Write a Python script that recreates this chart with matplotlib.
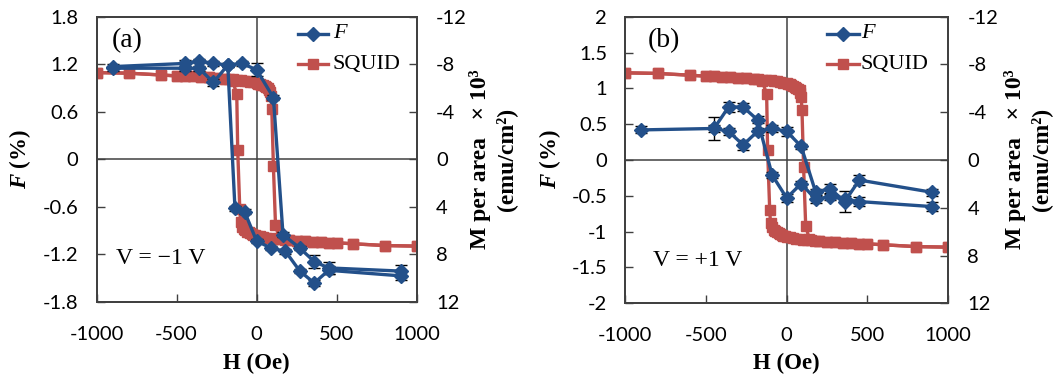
import matplotlib
matplotlib.use("Agg")
import matplotlib.pyplot as plt
from matplotlib.lines import Line2D

plt.rcParams["mathtext.fontset"] = "custom"
plt.rcParams["mathtext.rm"] = "Liberation Serif"
plt.rcParams["mathtext.bf"] = "Liberation Serif:bold"
plt.rcParams["mathtext.it"] = "Liberation Serif:italic"
plt.rcParams["mathtext.bfit"] = "Liberation Serif:italic:bold"

# ---------------- data ----------------
# SQUID magnetization loop (M per area x1e3, emu/cm^2), same for both panels
H_sq_dn = [1000, 800, 600, 500, 450, 400, 350, 300, 250, 200, 175, 150, 125, 100, 80, 60, 40, 20, 0,
           -10, -20, -30, -40, -50, -60, -70, -80, -90, -100, -105, -118, -124, -150, -200, -250,
           -300, -350, -400, -450, -500, -600, -800, -1000]
M_sq_dn = [7.3, 7.25, 7.1, 7.02, 7.0, 6.97, 6.94, 6.9, 6.86, 6.8, 6.77, 6.74, 6.7, 6.66, 6.62, 6.58, 6.53, 6.48, 6.42,
           6.38, 6.33, 6.28, 6.22, 6.15, 6.07, 5.97, 5.85, 5.65, 5.3, 4.2, -0.8, -5.5, -6.6, -6.8, -6.86,
           -6.9, -6.94, -6.97, -7.0, -7.02, -7.1, -7.25, -7.3]
H_sq_up = [-1000, -800, -600, -500, -450, -400, -350, -300, -250, -200, -175, -150, -125, -100, -80, -60, -40, -20, 0,
           10, 20, 30, 40, 50, 60, 70, 80, 85, 90, 95, 105, 118, 140, 200, 250,
           300, 350, 400, 450, 500, 600, 800, 1000]
M_sq_up = [-7.3, -7.25, -7.1, -7.02, -7.0, -6.97, -6.94, -6.9, -6.86, -6.8, -6.77, -6.74, -6.7, -6.66, -6.62, -6.58, -6.53, -6.48, -6.42,
           -6.38, -6.33, -6.28, -6.22, -6.15, -6.07, -5.97, -5.85, -5.65, -5.3, -4.2, 0.6, 5.5, 6.6, 6.8, 6.86,
           6.9, 6.94, 6.97, 7.0, 7.02, 7.1, 7.25, 7.3]

# Panel (a): F (%) at V = -1 V
H_a_up = [-900, -450, -360, -270, -180, -90, 0, 105, 165, 270, 360, 450, 900]
F_a_up = [1.17, 1.21, 1.24, 1.21, 1.19, 1.21, 1.13, 0.78, -0.95, -1.12, -1.29, -1.37, -1.41]
E_a_up = [0.03, 0.04, 0.03, 0.03, 0.03, 0.03, 0.08, 0.03, 0.03, 0.03, 0.08, 0.08, 0.08]
H_a_dn = [900, 450, 360, 270, 180, 90, 0, -75, -135, -180, -270, -360, -450, -900]
F_a_dn = [-1.47, -1.40, -1.56, -1.41, -1.16, -1.12, -1.03, -0.66, -0.62, 1.19, 0.97, 1.15, 1.15, 1.15]
E_a_dn = [0.05, 0.05, 0.04, 0.03, 0.03, 0.03, 0.03, 0.03, 0.03, 0.03, 0.05, 0.03, 0.03, 0.03]

# Panel (b): F (%) at V = +1 V
H_b_up = [-900, -450, -360, -270, -180, -90, 0, 90, 180, 270, 360, 450, 900]
F_b_up = [0.42, 0.44, 0.40, 0.21, 0.40, 0.44, 0.40, 0.19, -0.45, -0.40, -0.58, -0.28, -0.45]
E_b_up = [0.05, 0.16, 0.05, 0.07, 0.05, 0.05, 0.06, 0.04, 0.04, 0.07, 0.15, 0.07, 0.05]
H_b_dn = [900, 450, 360, 270, 180, 90, 0, -90, -180, -270, -360, -450]
F_b_dn = [-0.65, -0.58, -0.55, -0.51, -0.55, -0.33, -0.53, -0.21, 0.56, 0.74, 0.74, 0.44]
E_b_dn = [0.06, 0.06, 0.05, 0.05, 0.05, 0.04, 0.06, 0.04, 0.05, 0.06, 0.07, 0.05]

x_ticks = [-1000, -500, 0, 500, 1000]
ya_ticks = [-1.8, -1.2, -0.6, 0, 0.6, 1.2, 1.8]
ya_labels = ["-1.8", "-1.2", "-0.6", "0", "0.6", "1.2", "1.8"]
yb_ticks = [-2, -1.5, -1, -0.5, 0, 0.5, 1, 1.5, 2]
yb_labels = ["-2", "-1.5", "-1", "-0.5", "0", "0.5", "1", "1.5", "2"]
m_ticks = [-12, -8, -4, 0, 4, 8, 12]

BLUE = "#23508A"
RED = "#C0504D"
AXC = "#404040"

serif = ["Liberation Serif", "DejaVu Serif"]
sans = ["Lato", "DejaVu Sans"]

W, Hh = 1059.0, 379.0
fig = plt.figure(figsize=(W / 100, Hh / 100), dpi=100)

panels = [
    dict(rect=[96.5, 16.7, 416.7, 302.0], ylim=(-1.8, 1.8), yt=ya_ticks, yl=ya_labels,
         label="(a)", lab_xy=(127, 41), vtxt="V = \u22121 V", v_xy=(161, 259),
         flab_x=20, mlab_x=493, leg_x=(298, 328, 333), leg_y=(34, 64),
         Hup=H_a_up, Fup=F_a_up, Eup=E_a_up, Hdn=H_a_dn, Fdn=F_a_dn, Edn=E_a_dn),
    dict(rect=[625.3, 16.7, 948.0, 303.3], ylim=(-2, 2), yt=yb_ticks, yl=yb_labels,
         label="(b)", lab_xy=(664, 41), vtxt="V = +1 V", v_xy=(698, 261),
         flab_x=550, mlab_x=1028, leg_x=(827, 859, 861), leg_y=(34, 64),
         Hup=H_b_up, Fup=F_b_up, Eup=E_b_up, Hdn=H_b_dn, Fdn=F_b_dn, Edn=E_b_dn),
]


def fx(px):
    return px / W


def fy(py):
    return 1 - py / Hh


for p in panels:
    x0, y0, x1, y1 = p["rect"]
    ax = fig.add_axes([fx(x0), fy(y1), (x1 - x0) / W, (y1 - y0) / Hh])
    ax2 = ax.twinx()
    ax.set_zorder(ax2.get_zorder() + 1)
    ax.patch.set_visible(False)

    ax.set_xlim(-1000, 1000)
    ax.set_ylim(*p["ylim"])
    ax2.set_ylim(12, -12)

    ax2.axhline(0, color=AXC, lw=1.1, zorder=0)
    ax2.axvline(0, color=AXC, lw=1.1, zorder=0)

    # SQUID on right axis
    for Hs, Ms in [(H_sq_dn, M_sq_dn), (H_sq_up, M_sq_up)]:
        ax2.plot(Hs, Ms, color=RED, lw=2.4, marker="s", ms=7.5, mec=RED, mfc=RED, zorder=2)

    # F on left axis
    for Hs, Fs, Es in [(p["Hup"], p["Fup"], p["Eup"]), (p["Hdn"], p["Fdn"], p["Edn"])]:
        ax.errorbar(Hs, Fs, yerr=Es, color=BLUE, lw=2.4, marker="D", ms=7.5, mec=BLUE, mfc=BLUE,
                    ecolor="black", elinewidth=1.0, capsize=4, capthick=1.0, zorder=3)

    ax.set_xticks(x_ticks)
    ax.set_xticklabels([str(v) for v in x_ticks])
    ax.set_yticks(p["yt"])
    ax.set_yticklabels(p["yl"])
    ax2.set_yticks(m_ticks)
    ax2.set_yticklabels([str(v) for v in m_ticks])

    ax.tick_params(axis="x", direction="in", length=6, width=1, color=AXC, labelsize=14.5, pad=17)
    ax.tick_params(axis="y", direction="in", length=6, width=1, color=AXC, labelsize=14.5, pad=13)
    ax2.tick_params(axis="y", direction="in", length=6, width=1, color=AXC, labelsize=14.5, pad=14)
    for a in (ax, ax2):
        for lab in a.get_xticklabels() + a.get_yticklabels():
            lab.set_family(sans)
        for s in a.spines.values():
            s.set_color(AXC)
            s.set_linewidth(1.3)

    # axis labels
    fig.text(fx((x0 + x1) / 2), fy(363), "H (Oe)", family=serif, fontsize=16.5, fontweight="bold",
             ha="center", va="center")
    fig.text(fx(p["flab_x"]), fy(159), r"$\boldsymbol{F}$ (%)", family=serif, fontsize=16.5,
             fontweight="bold", rotation=90, ha="center", va="center")
    fig.text(fx(p["mlab_x"]), fy(159), "M per area   \u00d7 10\u00b3\n(emu/cm\u00b2)", family=serif,
             fontsize=17, fontweight="bold", rotation=90, ha="center", va="center",
             multialignment="center", linespacing=1.25)

    fig.text(fx(p["lab_xy"][0]), fy(p["lab_xy"][1]), p["label"], family=serif, fontsize=20,
             ha="center", va="center")
    fig.text(fx(p["v_xy"][0]), fy(p["v_xy"][1]), p["vtxt"], family=serif, fontsize=17,
             ha="center", va="center")

    # legend drawn manually
    lx0, lx1, tx = p["leg_x"]
    for (ly, col, mk, txt, st) in [(p["leg_y"][0], BLUE, "D", "F", "italic"),
                                   (p["leg_y"][1], RED, "s", "SQUID", "normal")]:
        ln = Line2D([fx(lx0), fx((lx0 + lx1) / 2), fx(lx1)], [fy(ly)] * 3, transform=fig.transFigure,
                    color=col, lw=2.4, marker=mk, ms=7.5, markevery=[1])
        fig.add_artist(ln)
        fig.text(fx(tx), fy(ly), txt, family=serif, fontsize=16, style=st, ha="left", va="center")

fig.savefig("out.png", dpi=100)
